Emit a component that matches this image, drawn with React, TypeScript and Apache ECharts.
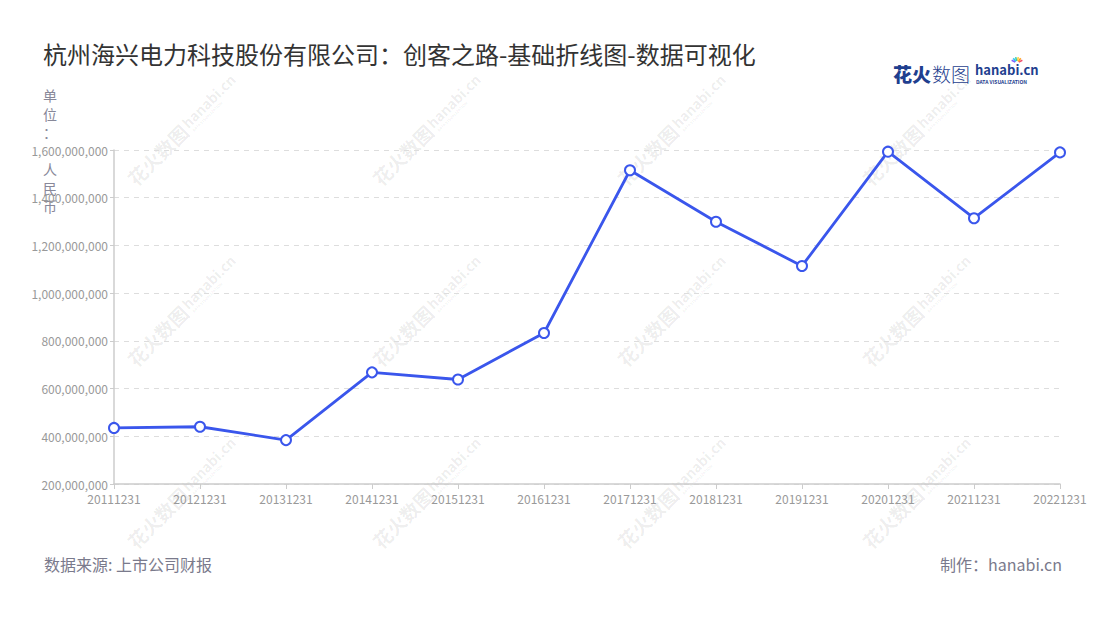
import { useEffect, useRef } from 'react';
import * as echarts from 'echarts';

const FONT = '"Noto Sans CJK SC", "Noto Sans", sans-serif';

// reporting dates
const categories = [
  '20111231', '20121231', '20131231', '20141231', '20151231', '20161231',
  '20171231', '20181231', '20191231', '20201231', '20211231', '20221231',
];

// values (人民币)
const revenue = [
  435000000, 440000000, 384000000, 668000000, 638000000, 833000000,
  1515000000, 1299000000, 1114000000, 1593000000, 1314000000, 1590000000,
];

const title = '杭州海兴电力科技股份有限公司：创客之路-基础折线图-数据可视化';
const sourceText = '数据来源: 上市公司财报';
const makerText = '制作：hanabi.cn';
const unitText = '单\n位\n：\n\n人\n民\n币';

// watermark tile centres
const markXs = [180, 425, 670, 915];
const markYs = [132, 313, 495];

const burstColors = ['#f0506e', '#ff9f1c', '#ffd23f', '#3bceac', '#2ec4f1', '#7b61ff'];

function watermark(cx: number, cy: number) {
  const c = 'rgba(0,0,0,0.08)';
  return {
    type: 'group',
    x: cx,
    y: cy,
    rotation: Math.PI / 4,
    silent: true,
    z: -10,
    children: [
      {
        type: 'text',
        x: -70,
        y: 0,
        style: { text: '花火数图', fill: c, font: `bold 19px ${FONT}`, verticalAlign: 'middle' },
      },
      {
        type: 'text',
        x: 8,
        y: -2,
        style: { text: 'hanabi.cn', fill: c, font: `bold 14px ${FONT}`, verticalAlign: 'middle' },
      },
      {
        type: 'text',
        x: 10,
        y: 8,
        style: { text: 'DATA VISUALIZATION', fill: c, font: `bold 4px ${FONT}`, verticalAlign: 'middle' },
      },
    ],
  };
}

export default function App() {
  const ref = useRef<HTMLDivElement | null>(null);

  useEffect(() => {
    document.body.style.margin = '0';
    if (!ref.current) return;
    const chart = echarts.init(ref.current, undefined, { renderer: 'svg' });

    const marks: any[] = [];
    markYs.forEach((y) => markXs.forEach((x) => marks.push(watermark(x, y))));

    const burst = burstColors.map((color, i) => {
      const a = Math.PI * (0.15 + (0.7 * i) / (burstColors.length - 1));
      return {
        type: 'line',
        silent: true,
        shape: {
          x1: 1017 + Math.cos(a) * 2,
          y1: 63 - Math.sin(a) * 2,
          x2: 1017 + Math.cos(a) * 6,
          y2: 63 - Math.sin(a) * 6,
        },
        style: { stroke: color, lineWidth: 1.6 },
      };
    });

    chart.setOption({
      animation: false,
      backgroundColor: '#ffffff',
      textStyle: { fontFamily: FONT },
      title: {
        text: title,
        left: 38,
        top: 36,
        textStyle: { fontSize: 24, fontWeight: 'normal', color: '#333333', fontFamily: FONT },
      },
      grid: { left: 114, right: 40, top: 150, bottom: 136 },
      xAxis: {
        type: 'category',
        data: categories,
        boundaryGap: false,
        axisLine: { lineStyle: { color: '#cccccc', width: 1.5 } },
        axisTick: { show: true, alignWithLabel: true, lineStyle: { color: '#cccccc' } },
        axisLabel: { color: '#999999', fontSize: 12, margin: 8, fontFamily: FONT },
      },
      yAxis: {
        type: 'value',
        min: 200000000,
        max: 1600000000,
        interval: 200000000,
        axisLine: { show: true, lineStyle: { color: '#cccccc', width: 1.5 } },
        axisTick: { show: true, length: 4, lineStyle: { color: '#cccccc' } },
        axisLabel: {
          color: '#999999',
          fontSize: 12,
          margin: 6,
          fontFamily: FONT,
          formatter: (v: number) => v.toLocaleString('en-US'),
        },
        splitLine: { lineStyle: { color: '#dddddd', type: [5, 5] } },
      },
      series: [
        {
          type: 'line',
          data: revenue,
          symbol: 'circle',
          symbolSize: 10,
          showSymbol: true,
          lineStyle: { color: '#3a56ec', width: 2.8 },
          itemStyle: { color: '#ffffff', borderColor: '#3a56ec', borderWidth: 2 },
          z: 5,
        },
      ],
      graphic: [
        ...marks,
        {
          type: 'text',
          left: 43,
          top: 86,
          silent: true,
          style: {
            text: unitText,
            fill: '#888899',
            font: `14px ${FONT}`,
            lineHeight: 18.5,
            align: 'center',
          },
        },
        {
          type: 'text',
          left: 44,
          top: 556,
          style: { text: sourceText, fill: '#7a7a8c', font: `16px ${FONT}` },
        },
        {
          type: 'text',
          right: 38,
          top: 556,
          style: { text: makerText, fill: '#7a7a8c', font: `16px ${FONT}` },
        },
        {
          type: 'text',
          x: 893,
          y: 73,
          style: { text: '花火', fill: '#1f3f8f', font: `900 19px ${FONT}`, verticalAlign: 'middle' },
        },
        {
          type: 'text',
          x: 932,
          y: 73,
          style: { text: '数图', fill: '#1f3f8f', font: `300 19px ${FONT}`, verticalAlign: 'middle' },
        },
        {
          type: 'text',
          x: 975,
          y: 69,
          style: { text: 'hanabi.cn', fill: '#1f3f8f', font: `bold 13px ${FONT}`, verticalAlign: 'middle' },
        },
        {
          type: 'text',
          x: 976,
          y: 81,
          style: { text: 'DATA VISUALIZATION', fill: '#1f3f8f', font: `bold 5px ${FONT}`, verticalAlign: 'middle' },
        },
        ...burst,
      ],
    });

    return () => {
      chart.dispose();
    };
  }, []);

  return <div ref={ref} style={{ width: 1100, height: 620 }} />;
}
